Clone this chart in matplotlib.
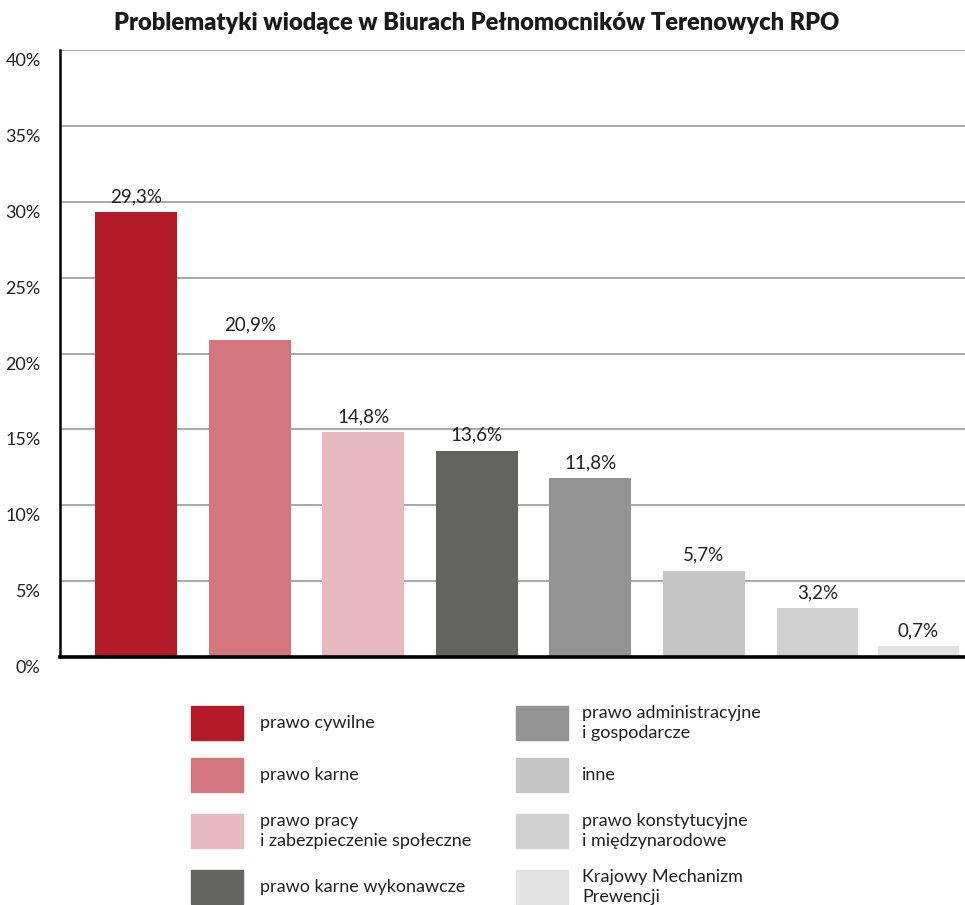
import matplotlib
matplotlib.use("Agg")
import matplotlib.pyplot as plt
import matplotlib.transforms as mtransforms
from matplotlib.patches import Rectangle

plt.rcParams["font.family"] = ["Lato", "DejaVu Sans"]

TITLE = "Problematyki wiodące w Biurach Pełnomocników Terenowych RPO"

categories = [
    "prawo cywilne",
    "prawo karne",
    "prawo pracy\ni zabezpieczenie społeczne",
    "prawo karne wykonawcze",
    "prawo administracyjne\ni gospodarcze",
    "inne",
    "prawo konstytucyjne\ni międzynarodowe",
    "Krajowy Mechanizm\nPrewencji",
]
shares = [29.3, 20.9, 14.8, 13.6, 11.8, 5.7, 3.2, 0.7]
colors = ["#B41B29", "#D3767D", "#E8B9C0", "#636361",
          "#939393", "#C4C5C4", "#D0D1D0", "#E3E3E3"]
y_ticks = [0, 5, 10, 15, 20, 25, 30, 35, 40]

W, H = 965, 905
fig = plt.figure(figsize=(W / 100, H / 100), dpi=100)
ax = fig.add_axes([60 / W, 1 - 657 / H, 1 - 60 / W, (657 - 50) / H])

# last bar is pulled left so it fits inside the plot frame
positions = [0, 1, 2, 3, 4, 5, 6, 6.89]
ax.bar(positions, shares, width=0.72, color=colors, zorder=3)
for x, v in zip(positions, shares):
    ax.annotate(f"{v:.1f}".replace(".", ",") + "%", (x, v), xytext=(0, 5),
                textcoords="offset points", ha="center", va="bottom",
                fontsize=13.5, color="#222222")

ax.set_xlim(-0.67, 7.30)
ax.set_ylim(0, 40)
ax.set_yticks(y_ticks)
ax.set_yticklabels([])
ax.set_xticks([])
ax.tick_params(length=0)
ax.grid(axis="y", color="#A8A8A8", linewidth=1.4, zorder=0)

for side in ("top", "right"):
    ax.spines[side].set_visible(False)
ax.spines["left"].set_linewidth(1.8)
ax.spines["bottom"].set_linewidth(2.6)
ax.spines["left"].set_zorder(4)
ax.spines["bottom"].set_zorder(4)

# tick labels sit just below their gridline
label_tr = mtransforms.offset_copy(ax.get_yaxis_transform(), fig=fig, x=-14, y=-8, units="points")
for t in y_ticks:
    ax.text(0, t, f"{t}%", transform=label_tr, ha="right", va="center",
            fontsize=13, color="#222222")

fig.text(477 / W, 1 - 23 / H, TITLE, ha="center", va="center",
         fontsize=17, fontweight="heavy", color="#1a1a1a")

# legend in two columns of four
sw_w, sw_h = 52, 34
col_x = [191, 516]
text_x = [260, 582]
row_y = [706, 758, 814, 870]
for i, (label, c) in enumerate(zip(categories, colors)):
    col, row = divmod(i, 4)
    x0, y0 = col_x[col], row_y[row]
    fig.patches.append(Rectangle((x0 / W, 1 - (y0 + sw_h) / H), sw_w / W, sw_h / H,
                                 transform=fig.transFigure, color=c))
    fig.text(text_x[col] / W, 1 - (y0 + sw_h / 2) / H, label, ha="left", va="center",
             fontsize=13, color="#222222", linespacing=1.3)

fig.savefig("out.png", dpi=100)
